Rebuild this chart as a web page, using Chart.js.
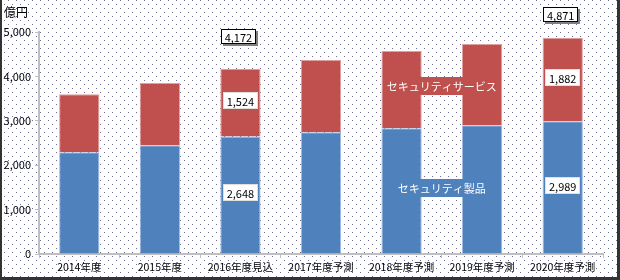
<!DOCTYPE html>
<html>
<head>
<meta charset="utf-8">
<script src="https://cdn.jsdelivr.net/npm/chart.js@4"></script>
<style>
    html, body { margin: 0; padding: 0; background: #fff; }
    #wrap { width: 620px; height: 280px; }
</style>
</head>
<body>
<div id="wrap"><canvas id="market-canvas" width="620" height="280"></canvas></div>
<script>
const categories = [
    "2014年度",
    "2015年度",
    "2016年度見込",
    "2017年度予測",
    "2018年度予測",
    "2019年度予測",
    "2020年度予測",
];
const productValues = [2290, 2450, 2648, 2740, 2835, 2900, 2989];
const serviceValues = [1310, 1400, 1524, 1630, 1735, 1830, 1882];
const labelledIndexes = [2, 6];
const yTicks = [0, 1000, 2000, 3000, 4000, 5000];
const seriesNames = ["セキュリティ製品", "セキュリティサービス"];
const unitLabel = "億円";

const FONT = "'Noto Sans CJK JP', 'Noto Sans', sans-serif";
const BLUE = "#4f81bd";
const RED = "#c0504d";

function formatNumber(n) {
    return Number(n).toLocaleString("en-US");
}

function makeDots(ctx) {
    const tile = document.createElement("canvas");
    tile.width = 8;
    tile.height = 8;
    const t = tile.getContext("2d");
    t.fillStyle = "#fff";
    t.fillRect(0, 0, 8, 8);
    t.fillStyle = "#6d6d99";
    t.fillRect(0, 0, 1, 1);
    t.fillRect(4, 4, 1, 1);
    return ctx.createPattern(tile, "repeat");
}

function drawBox(ctx, text, x, y, framed) {
    ctx.font = "11px " + FONT;
    const w = Math.round(ctx.measureText(text).width) + 8;
    const h = framed ? 15 : 17;
    const left = Math.round(x - w / 2);
    const top = Math.round(y - h / 2);
    if (framed) {
        ctx.fillStyle = "#808080";
        ctx.fillRect(left + 2, top + 2, w, h);
    }
    ctx.fillStyle = "#fff";
    ctx.fillRect(left, top, w, h);
    ctx.strokeStyle = framed ? "#000" : "#e0e0e0";
    ctx.lineWidth = 1;
    ctx.strokeRect(left + 0.5, top + 0.5, w - 1, h - 1);
    ctx.fillStyle = "#000";
    ctx.textAlign = "center";
    ctx.textBaseline = "middle";
    ctx.fillText(text, x, y + 1);
}

const backgroundPlugin = {
    id: "background",
    beforeDraw(chart) {
        const ctx = chart.ctx;
        ctx.save();
        ctx.fillStyle = makeDots(ctx);
        ctx.fillRect(0, 0, chart.width, chart.height);
        ctx.restore();
    },
    afterDraw(chart) {
        const ctx = chart.ctx;
        ctx.save();
        ctx.fillStyle = "#000";
        ctx.font = "12px " + FONT;
        ctx.textAlign = "left";
        ctx.textBaseline = "middle";
        ctx.fillText(unitLabel, 4, 12);
        ctx.fillStyle = "#333";
        ctx.fillRect(0, 0, 2, chart.height);
        ctx.fillRect(chart.width - 3, 0, 3, chart.height);
        ctx.fillRect(0, chart.height - 3, chart.width, 3);
        ctx.restore();
    },
};

const labelsPlugin = {
    id: "valueLabels",
    afterDatasetsDraw(chart, args, opts) {
        const ctx = chart.ctx;
        const x = chart.scales.x;
        const y = chart.scales.y;
        ctx.save();
        labelledIndexes.forEach((idx, k) => {
            let topY = Infinity;
            chart.data.datasets.forEach((ds, d) => {
                const el = chart.getDatasetMeta(d).data[idx];
                topY = Math.min(topY, el.y);
                drawBox(ctx, formatNumber(ds.data[idx]), el.x, (el.y + el.base) / 2 - 2, false);
            });
            const total = productValues[idx] + serviceValues[idx];
            drawBox(ctx, formatNumber(total), x.getPixelForValue(idx) - 2, topY - opts.totalOffsets[k], true);
        });

        // series names placed between the 2018 and 2019 bars
        const cx = (x.getPixelForValue(4) + x.getPixelForValue(5)) / 2;
        ctx.font = "11px " + FONT;
        ctx.textAlign = "center";
        ctx.textBaseline = "middle";
        opts.names.forEach((n) => {
            const cy = y.getPixelForValue(n.value);
            const w = ctx.measureText(n.text).width + 6;
            ctx.fillStyle = n.color;
            ctx.fillRect(Math.round(cx - w / 2), Math.round(cy - 9), Math.round(w), 18);
            ctx.fillStyle = "#fff";
            ctx.fillText(n.text, cx, cy + 1);
        });
        ctx.restore();
    },
};

const data = {
    labels: categories,
    datasets: [
        {
            label: seriesNames[0],
            data: productValues,
            backgroundColor: BLUE,
            borderColor: "#9fbbe0",
            borderWidth: 1,
        },
        {
            label: seriesNames[1],
            data: serviceValues,
            backgroundColor: RED,
            borderColor: "#e0a09e",
            borderWidth: 1,
        },
    ],
};

const config = {
    type: "bar",
    data: data,
    options: {
        responsive: false,
        animation: false,
        devicePixelRatio: 1,
        layout: { padding: { left: 0, right: 17, top: 32, bottom: 2 } },
        datasets: {
            bar: { barPercentage: 1, categoryPercentage: 0.5 },
        },
        plugins: {
            legend: { display: false },
            tooltip: { enabled: false },
            valueLabels: {
                totalOffsets: [32, 23],
                names: [
                    { text: seriesNames[1], value: 3780, color: RED },
                    { text: seriesNames[0], value: 1480, color: BLUE },
                ],
            },
        },
        scales: {
            x: {
                stacked: true,
                afterFit: (s) => { s.height = 24; },
                grid: {
                    drawOnChartArea: false,
                    drawTicks: true,
                    tickLength: 4,
                    color: "#bfbfbf",
                    offset: true,
                },
                border: { color: "#bfbfbf", width: 2 },
                ticks: {
                    color: "#000",
                    padding: 3,
                    maxRotation: 0,
                    autoSkip: false,
                    font: { family: FONT, size: 10.5 },
                },
            },
            y: {
                stacked: true,
                min: 0,
                max: 5000,
                afterFit: (s) => { s.width = 39; },
                afterBuildTicks: (s) => { s.ticks = yTicks.map((v) => ({ value: v })); },
                grid: {
                    drawOnChartArea: false,
                    drawTicks: true,
                    tickLength: 4,
                    color: "#bfbfbf",
                },
                border: { color: "#bfbfbf", width: 2 },
                ticks: {
                    color: "#000",
                    padding: 4,
                    font: { family: FONT, size: 11 },
                    callback: (v) => formatNumber(v),
                },
            },
        },
    },
    plugins: [backgroundPlugin, labelsPlugin],
};

new Chart(document.querySelector("#market-canvas"), config);
</script>
</body>
</html>
